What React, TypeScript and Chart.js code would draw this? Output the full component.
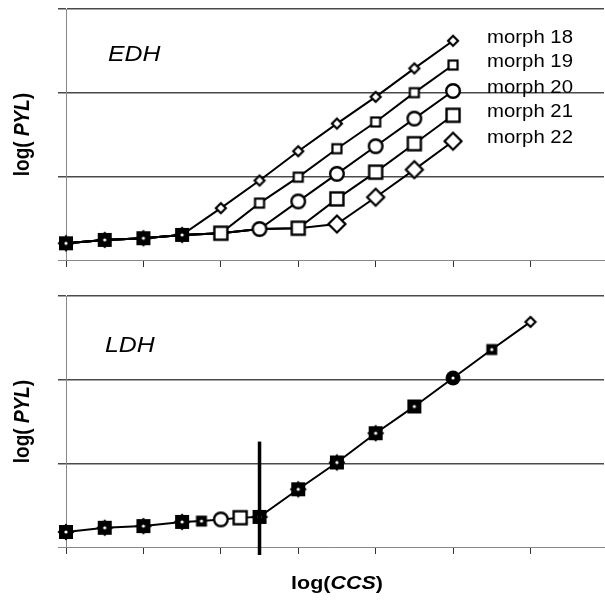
import React, { useEffect, useRef } from "react";
import { Chart, registerables } from "chart.js";

Chart.register(...registerables);

// ---------- data ----------
const X_EDH = [0, 0.5, 1, 1.5, 2, 2.5, 3, 3.5, 4, 4.5, 5];
const MORPH_18 = [0.2, 0.24, 0.26, 0.3, 0.62, 0.95, 1.3, 1.63, 1.95, 2.29, 2.62];
const MORPH_19 = [0.2, 0.24, 0.26, 0.3, 0.32, 0.68, 0.99, 1.33, 1.65, 2.0, 2.33];
const MORPH_20 = [0.2, 0.24, 0.26, 0.3, 0.32, 0.37, 0.7, 1.03, 1.36, 1.69, 2.02];
const MORPH_21 = [0.2, 0.24, 0.26, 0.3, 0.32, 0.37, 0.38, 0.73, 1.05, 1.39, 1.73];
const MORPH_22 = [0.2, 0.24, 0.26, 0.3, 0.32, 0.37, 0.38, 0.43, 0.75, 1.08, 1.42];
const SERIES_LABELS = ["morph 18", "morph 19", "morph 20", "morph 21", "morph 22"];

const X_LDH = [0, 0.5, 1, 1.5, 1.75, 2, 2.25, 2.5, 3, 3.5, 4, 4.5, 5, 5.5, 6];
const Y_LDH = [0.18, 0.23, 0.25, 0.3, 0.31, 0.33, 0.35, 0.36, 0.69, 1.01, 1.36, 1.68, 2.02, 2.36, 2.69];

const THRESHOLD_X = 2.5;
const THRESHOLD_TOP = 1.26;

const X_MIN = 0;
const X_MAX = 6.95;
const Y_MIN = 0;
const Y_MAX = 3;

const PANEL_TITLES = ["EDH", "LDH"];
const X_TITLE = ["log(", "CCS", ")"];
const Y_TITLE = ["log( ", "PYL", ")"];

// ---------- marker styles ----------
const OWN_KINDS = ["diaSmall", "sqSmall", "circle", "sqBig", "diaBig"];
const FIRST_OWN = [4, 5, 6, 7, 7];
const SHARED_KINDS = ["blkStar", "blkStar", "blkStar", "blkStar", "sqBig", "circle", "sqBig"];
const LDH_KINDS = [
  "blkStar", "blkStar", "blkStar", "blkStar", "blkSmall", "circle", "sqBig", "blkStar",
  "blkStar", "blkStar", "blkStar", "blkSq", "blkCircle", "blkSmall", "diaSmall",
];

const FONT = "'Liberation Sans', Arial, Helvetica, sans-serif";
const SX = 1.13;

function makeMarker(kind: string): HTMLCanvasElement {
  const c = document.createElement("canvas");
  c.width = 22;
  c.height = 22;
  const g = c.getContext("2d")!;
  const m = 11;
  g.lineWidth = 2;
  g.strokeStyle = "#000";
  g.fillStyle = "#fff";
  const dot = () => {
    g.fillStyle = "#fff";
    g.beginPath();
    g.arc(m, m, 1.6, 0, Math.PI * 2);
    g.fill();
  };
  const diamond = (r: number) => {
    g.beginPath();
    g.moveTo(m, m - r);
    g.lineTo(m + r, m);
    g.lineTo(m, m + r);
    g.lineTo(m - r, m);
    g.closePath();
  };
  switch (kind) {
    case "blkStar":
      g.fillStyle = "#000";
      diamond(8.5);
      g.fill();
      g.fillRect(m - 7, m - 7, 14, 14);
      dot();
      break;
    case "blkSq":
      g.fillStyle = "#000";
      g.fillRect(m - 7, m - 7, 14, 14);
      dot();
      break;
    case "blkSmall":
      g.fillStyle = "#000";
      g.fillRect(m - 5.5, m - 5.5, 11, 11);
      dot();
      break;
    case "blkCircle":
      g.fillStyle = "#000";
      g.beginPath();
      g.arc(m, m, 7.5, 0, Math.PI * 2);
      g.fill();
      dot();
      break;
    case "sqBig":
      g.fillRect(m - 6.5, m - 6.5, 13, 13);
      g.lineWidth = 2.4;
      g.strokeRect(m - 6.5, m - 6.5, 13, 13);
      break;
    case "sqSmall":
      g.fillRect(m - 4.5, m - 4.5, 9, 9);
      g.lineWidth = 2.2;
      g.strokeRect(m - 4.5, m - 4.5, 9, 9);
      break;
    case "circle":
      g.beginPath();
      g.arc(m, m, 6.8, 0, Math.PI * 2);
      g.fill();
      g.lineWidth = 2.4;
      g.stroke();
      break;
    case "diaBig":
      diamond(8.5);
      g.fill();
      g.lineWidth = 2.2;
      g.stroke();
      break;
    case "diaSmall":
      diamond(5);
      g.fill();
      g.lineWidth = 2.2;
      g.stroke();
      break;
  }
  return c;
}

function drawStretched(ctx: CanvasRenderingContext2D, parts: [string, string][], x: number, y: number) {
  ctx.save();
  ctx.translate(x, y);
  ctx.scale(SX, 1);
  ctx.fillStyle = "#000";
  ctx.textBaseline = "alphabetic";
  let cx = 0;
  for (const [text, font] of parts) {
    ctx.font = font;
    ctx.fillText(text, cx, 0);
    cx += ctx.measureText(text).width;
  }
  ctx.restore();
}

function partsWidth(ctx: CanvasRenderingContext2D, parts: [string, string][]) {
  let w = 0;
  for (const [t, f] of parts) {
    ctx.font = f;
    w += ctx.measureText(t).width;
  }
  return w;
}

const boldF = `bold 19px ${FONT}`;
const boldItF = `italic bold 19px ${FONT}`;

const yTitlePlugin = {
  id: "yTitle",
  afterDraw(chart: any) {
    const ctx = chart.ctx as CanvasRenderingContext2D;
    const area = chart.chartArea;
    const parts: [string, string][] = [
      [Y_TITLE[0], boldF],
      [Y_TITLE[1], boldItF],
      [Y_TITLE[2], boldF],
    ];
    const w = partsWidth(ctx, parts);
    ctx.save();
    ctx.translate(23, (area.top + area.bottom) / 2);
    ctx.rotate(-Math.PI / 2);
    ctx.scale(1, SX);
    ctx.fillStyle = "#000";
    ctx.textBaseline = "middle";
    let cx = -w / 2;
    for (const [t, f] of parts) {
      ctx.font = f;
      ctx.fillText(t, cx, 0);
      cx += ctx.measureText(t).width;
    }
    ctx.restore();
  },
};

function panelTitlePlugin(text: string, dx: number, dy: number) {
  return {
    id: "panelTitle",
    afterDraw(chart: any) {
      const ctx = chart.ctx as CanvasRenderingContext2D;
      const a = chart.chartArea;
      drawStretched(ctx, [[text, `italic 22px ${FONT}`]], a.left + dx, a.top + dy);
    },
  };
}

const seriesLabelPlugin = {
  id: "seriesLabels",
  afterDatasetsDraw(chart: any) {
    const ctx = chart.ctx as CanvasRenderingContext2D;
    chart.data.datasets.forEach((ds: any, k: number) => {
      const meta = chart.getDatasetMeta(k);
      const p = meta.data[meta.data.length - 1];
      ctx.save();
      ctx.translate(p.x + 34, p.y - 3);
      ctx.scale(SX, 1);
      ctx.font = `18px ${FONT}`;
      ctx.fillStyle = "#000";
      ctx.textBaseline = "middle";
      ctx.fillText(ds.label, 0, 0);
      ctx.restore();
    });
  },
};

const thresholdPlugin = {
  id: "threshold",
  afterDatasetsDraw(chart: any) {
    const ctx = chart.ctx as CanvasRenderingContext2D;
    const x = chart.scales.x.getPixelForValue(THRESHOLD_X);
    const yTop = chart.scales.y.getPixelForValue(THRESHOLD_TOP);
    ctx.save();
    ctx.strokeStyle = "#000";
    ctx.lineWidth = 3.5;
    ctx.beginPath();
    ctx.moveTo(x, yTop);
    ctx.lineTo(x, chart.chartArea.bottom + 8);
    ctx.stroke();
    ctx.restore();
  },
};

const xTitlePlugin = {
  id: "xTitle",
  afterDraw(chart: any) {
    const ctx = chart.ctx as CanvasRenderingContext2D;
    const parts: [string, string][] = [
      [X_TITLE[0], boldF],
      [X_TITLE[1], boldItF],
      [X_TITLE[2], boldF],
    ];
    const w = partsWidth(ctx, parts) * SX;
    drawStretched(ctx, parts, 337 - w / 2, chart.chartArea.bottom + 42);
  },
};

function scales(xAxisHeight: number) {
  return {
    x: {
      type: "linear" as const,
      min: X_MIN,
      max: X_MAX,
      ticks: { display: false, stepSize: 1, includeBounds: false },
      grid: { drawOnChartArea: false, drawTicks: true, tickLength: 7, color: "#333", lineWidth: 1 },
      border: { display: true, color: "#888", width: 1 },
      afterFit(s: any) {
        s.height = xAxisHeight;
        s.paddingLeft = 0;
        s.paddingRight = 0;
      },
    },
    y: {
      type: "linear" as const,
      min: Y_MIN,
      max: Y_MAX,
      ticks: { display: false, stepSize: 1 },
      grid: {
        drawTicks: true,
        tickLength: 8,
        color: (c: any) => (c.tick && c.tick.value === 0 ? "#888" : "#4a4a4a"),
        lineWidth: (c: any) => (c.tick && c.tick.value === 0 ? 1 : 1.5),
      },
      border: { display: true, color: "#888", width: 1 },
      afterFit(s: any) {
        s.width = 66;
        s.paddingTop = 0;
        s.paddingBottom = 0;
      },
    },
  };
}

export default function App() {
  const topRef = useRef<HTMLCanvasElement>(null);
  const botRef = useRef<HTMLCanvasElement>(null);

  useEffect(() => {
    const M: Record<string, HTMLCanvasElement> = {};
    ["blkStar", "blkSq", "blkSmall", "blkCircle", "sqBig", "sqSmall", "circle", "diaBig", "diaSmall"].forEach(
      (k) => (M[k] = makeMarker(k))
    );
    const morphs = [MORPH_18, MORPH_19, MORPH_20, MORPH_21, MORPH_22];
    const last = morphs.length - 1;

    const topChart = new Chart(topRef.current!, {
      type: "line",
      data: {
        datasets: morphs.map((vals, k) => ({
          label: SERIES_LABELS[k],
          data: vals.map((y, i) => ({ x: X_EDH[i], y })),
          borderColor: "#000",
          borderWidth: 2,
          tension: 0,
          fill: false,
          clip: false as any,
          order: k === last ? 0 : k + 1,
          pointStyle: vals.map((_, i) =>
            i >= FIRST_OWN[k] ? M[OWN_KINDS[k]] : k === last ? M[SHARED_KINDS[i]] : M.blkSq
          ) as any,
          pointRadius: vals.map((_, i) => (i >= FIRST_OWN[k] || k === last ? 6 : 0)),
        })),
      },
      options: {
        responsive: false,
        maintainAspectRatio: false,
        animation: false,
        events: [],
        layout: { autoPadding: false, padding: { top: 9, right: 1, bottom: 0, left: 0 } },
        plugins: { legend: { display: false }, tooltip: { enabled: false } },
        scales: scales(20) as any,
      },
      plugins: [seriesLabelPlugin, yTitlePlugin, panelTitlePlugin(PANEL_TITLES[0], 42, 52)],
    });

    const botChart = new Chart(botRef.current!, {
      type: "line",
      data: {
        datasets: [
          {
            label: "LDH",
            data: Y_LDH.map((y, i) => ({ x: X_LDH[i], y })),
            borderColor: "#000",
            borderWidth: 2,
            tension: 0,
            fill: false,
            clip: false as any,
            pointStyle: LDH_KINDS.map((k) => M[k]) as any,
            pointRadius: 6,
          },
        ],
      },
      options: {
        responsive: false,
        maintainAspectRatio: false,
        animation: false,
        events: [],
        layout: { autoPadding: false, padding: { top: 16, right: 1, bottom: 0, left: 0 } },
        plugins: { legend: { display: false }, tooltip: { enabled: false } },
        scales: scales(55) as any,
      },
      plugins: [thresholdPlugin, yTitlePlugin, xTitlePlugin, panelTitlePlugin(PANEL_TITLES[1], 39, 56)],
    });

    return () => {
      topChart.destroy();
      botChart.destroy();
    };
  }, []);

  return (
    <div style={{ position: "absolute", left: 0, top: 0, width: 605, height: 602, background: "#fff" }}>
      <canvas ref={topRef} width={605} height={280} style={{ position: "absolute", left: 0, top: 0 }} />
      <canvas ref={botRef} width={605} height={322} style={{ position: "absolute", left: 0, top: 280 }} />
    </div>
  );
}
